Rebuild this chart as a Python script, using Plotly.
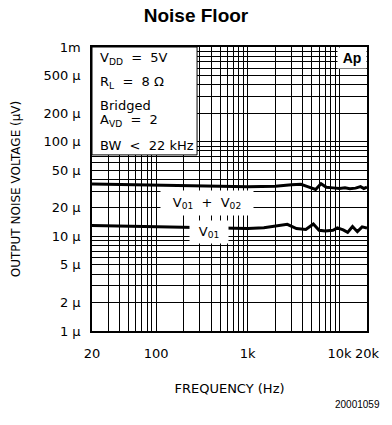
import numpy as np
import plotly.graph_objects as go

# Noise floor curves (frequency in Hz, noise in uV)
freq_sum = [20, 50, 100, 200, 500, 1000, 2000, 3000, 3800, 4500, 5500, 6300,
            7200, 8500, 10000, 11500, 13000, 15000, 17000, 18500, 20000]
noise_sum = [35.8, 35.4, 35.0, 34.5, 33.8, 33.5, 33.8, 35.0, 35.5, 33.5, 31.3, 36.0,
             33.0, 32.5, 32.0, 32.5, 31.8, 32.3, 33.5, 32.0, 33.0]

freq_v01 = [20, 100, 500, 1000, 1500, 2000, 2700, 3400, 4300, 5200, 6000, 7000,
            8500, 9500, 11000, 12300, 13900, 15700, 17700, 20000]
noise_v01 = [13.0, 12.6, 12.1, 12.1, 12.3, 12.8, 13.4, 12.1, 11.8, 13.5, 11.6, 11.4,
             11.6, 12.3, 11.7, 11.0, 12.7, 11.2, 12.6, 12.2]

x_ticks = [20, 100, 1000, 10000, 20000]
x_labels = ["20", "100", "1k", "10k", "20k"]
y_ticks = [1, 2, 5, 10, 20, 50, 100, 200, 500, 1000]
y_labels = ["1 µ", "2 µ", "5 µ", "10 µ", "20 µ", "50 µ", "100 µ", "200 µ", "500 µ", "1m"]

x_grid = [m * 10 ** d for d in (1, 2, 3) for m in range(1, 10) if m * 10 ** d >= 20] + [10000, 20000]
y_grid = [m * 10 ** d for d in (0, 1, 2) for m in range(1, 10)] + [1000]

FONT = "DejaVu Sans"

fig = go.Figure()
fig.add_trace(go.Scatter(x=freq_sum, y=noise_sum, mode="lines",
                         line=dict(color="black", width=3), showlegend=False))
fig.add_trace(go.Scatter(x=freq_v01, y=noise_v01, mode="lines",
                         line=dict(color="black", width=3), showlegend=False))

fig.update_layout(
    width=392, height=425,
    margin=dict(l=92, r=17, t=47, b=94),
    paper_bgcolor="white", plot_bgcolor="white",
    font=dict(family=FONT, size=12, color="black"),
    title=dict(text="<b>Noise Floor</b>", x=0.5, xanchor="center", y=0.965, yanchor="middle",
               font=dict(family="Liberation Sans", size=19, color="black")),
)

fig.update_xaxes(
    type="log", range=[np.log10(20), np.log10(20000)],
    tickvals=x_ticks, ticktext=x_labels, ticks="", ticklabelstandoff=10,
    tickfont=dict(size=13),
    showgrid=False, zeroline=False,
    minor=dict(tickvals=x_grid, showgrid=True, gridcolor="black", gridwidth=1, ticks=""),
    showline=True, linecolor="black", linewidth=1.5, mirror=True,
    title=dict(text="FREQUENCY (Hz)", standoff=24, font=dict(size=13)),
)
fig.update_yaxes(
    type="log", range=[0, 3],
    tickvals=y_ticks, ticktext=y_labels, ticks="", ticklabelstandoff=7,
    tickfont=dict(size=13),
    showgrid=False, zeroline=False,
    minor=dict(tickvals=y_grid, showgrid=True, gridcolor="black", gridwidth=1, ticks=""),
    showline=True, linecolor="black", linewidth=1.5, mirror=True,
    title=dict(text="OUTPUT NOISE VOLTAGE (µV)", standoff=20, font=dict(size=12)),
)

# white box for conditions
fig.add_shape(type="rect", xref="paper", yref="paper", x0=0, x1=0.382, y0=0.62, y1=1,
              fillcolor="white", line=dict(color="black", width=1), layer="above")

cond = [("V<sub>DD</sub>  =  5V", 0.96), ("R<sub>L</sub>  =  8 Ω", 0.875),
        ("Bridged", 0.795), ("A<sub>VD</sub>  =  2", 0.74), ("BW  <  22 kHz", 0.652)]
for txt, yy in cond:
    fig.add_annotation(text=txt, xref="paper", yref="paper", x=0.02, y=yy,
                       xanchor="left", yanchor="middle", showarrow=False,
                       font=dict(size=13))

fig.add_annotation(text="<b>Ap</b>", xref="paper", yref="paper", x=1, y=1,
                   xanchor="right", yanchor="top", showarrow=False,
                   width=26, height=18, bgcolor="white", borderpad=1,
                   font=dict(family="Liberation Sans", size=14))

fig.add_annotation(text="V<sub>01</sub>  +  V<sub>02</sub>", xref="paper", yref="paper",
                   x=(210 - 92) / 283, y=(331 - 203) / 284, showarrow=False,
                   width=90, height=22, bgcolor="white", font=dict(size=13))
fig.add_annotation(text="V<sub>01</sub>", xref="paper", yref="paper",
                   x=(212 - 92) / 283, y=(331 - 244) / 284, showarrow=False,
                   width=36, height=20, bgcolor="white", font=dict(size=13))

fig.add_annotation(text="20001059", xref="paper", yref="paper", x=(390 - 92) / 283,
                   y=(331 - 405) / 284, xanchor="right", yanchor="middle", showarrow=False,
                   font=dict(family="Liberation Sans", size=10))

fig.write_html("out.html", config={"displayModeBar": False},
               post_script="document.body.style.margin='0';document.body.style.overflow='hidden';")
